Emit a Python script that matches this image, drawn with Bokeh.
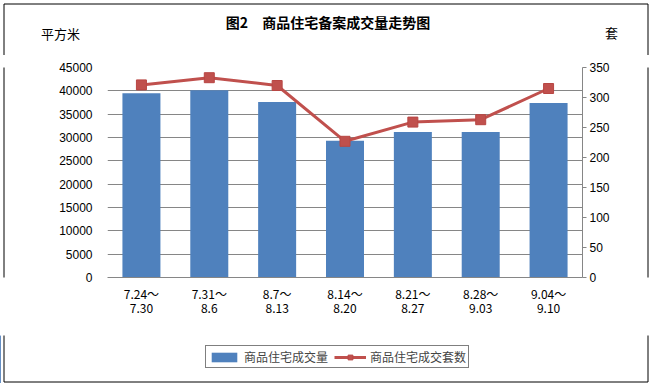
from bokeh.plotting import figure
from bokeh.layouts import column, row
from bokeh.models import (Range1d, LinearAxis, SingleIntervalTicker, Legend,
                          LegendItem, FixedTicker)
from bokeh.core.properties import value
from bokeh.embed import file_html
from bokeh.resources import INLINE

# ---- data ----
categories = ["7.24～\n7.30", "7.31～\n8.6", "8.7～\n8.13", "8.14～\n8.20",
              "8.21～\n8.27", "8.28～\n9.03", "9.04～\n9.10"]
area_sqm = [39500, 40100, 37600, 29300, 31200, 31200, 37400]   # 商品住宅成交量 (平方米)
units = [321, 333, 320, 227, 259, 263, 315]                    # 商品住宅成交套数 (套)
title_text = "图2　商品住宅备案成交量走势图"
left_unit = "平方米"
right_unit = "套"
series_names = ["商品住宅成交量", "商品住宅成交套数"]

idx = list(range(len(categories)))

CJK = "Noto Sans CJK SC"
NUM = "Liberation Sans"
BLUE = "#4F81BD"
RED = "#C0504D"
GRID = "#868686"

W = 651          # total width
TOP_H = 55       # header strip height
MID_H = 280      # main chart height
BOT_H = 48       # legend strip height
LS_W = 8         # left border strip
RS_W = 11        # right border strip
MAIN_W = W - LS_W - RS_W
BX0, BX1 = 3.5, W - 3.5   # outer border x positions (page pixels)
EXT = 10                  # let border lines run past each strip's edge


def blank(width, height):
    f = figure(width=width, height=height, x_range=Range1d(0, width),
               y_range=Range1d(height, 0), output_backend="svg",
               toolbar_location=None, title=None,
               x_axis_location=None, y_axis_location=None,
               min_border=0, min_border_left=0, min_border_right=0,
               min_border_top=0, min_border_bottom=0)
    f.outline_line_color = None
    f.grid.visible = False
    f.background_fill_color = "white"
    f.border_fill_color = "white"
    return f


# ---- header: title, unit labels, top border ----
top = blank(W, TOP_H)
top.segment(x0=[BX0, BX0, BX1], y0=[3.5, 3.5, 3.5], x1=[BX1, BX0, BX1],
            y1=[3.5, TOP_H + EXT, TOP_H + EXT], line_color="black", line_width=1)
top.text(x=[327.5], y=[21], text=[title_text], text_font=value(CJK),
         text_font_size="14px", text_font_style="bold", text_align="center",
         text_baseline="middle", text_color="black")
top.text(x=[60, 611], y=[33, 32], text=[left_unit, right_unit], text_font=value(CJK),
         text_font_size="13px", text_align="center", text_baseline="middle",
         text_color="black")

# ---- side border strips ----
ls = blank(LS_W, MID_H)
ls.segment(x0=[BX0], y0=[-EXT], x1=[BX0], y1=[MID_H + EXT], line_color="black", line_width=1)
rs = blank(RS_W, MID_H)
rx = BX1 - (W - RS_W)
rs.segment(x0=[rx], y0=[-EXT], x1=[rx], y1=[MID_H + EXT], line_color="black", line_width=1)

# ---- main chart ----
p = figure(width=MAIN_W, height=MID_H, x_range=Range1d(-0.5, len(categories) - 0.5),
           y_range=Range1d(0, 45000), output_backend="svg", toolbar_location=None,
           title=None, min_border_left=99, min_border_right=MAIN_W - 99 - 475,
           min_border_top=12, min_border_bottom=MID_H - 12 - 210)
p.outline_line_color = None
p.background_fill_color = "white"
p.border_fill_color = "white"
p.extra_y_ranges = {"count": Range1d(0, 350)}

p.xgrid.visible = False
p.ygrid.grid_line_color = GRID
p.ygrid.grid_line_width = 1

ya = p.yaxis[0]
ya.ticker = SingleIntervalTicker(interval=5000, num_minor_ticks=0)
ya.axis_line_color = None
ya.major_tick_line_color = None
ya.minor_tick_line_color = None
ya.major_label_standoff = 9
ya.major_label_text_font = NUM
ya.major_label_text_font_size = "12px"
ya.major_label_text_color = "black"

xa = p.xaxis[0]
xa.ticker = FixedTicker(ticks=idx)
xa.major_label_overrides = {i: c for i, c in zip(idx, categories)}
xa.axis_line_color = GRID
xa.major_tick_line_color = None
xa.minor_tick_line_color = None
xa.major_label_standoff = 1
xa.major_label_text_font = CJK
xa.major_label_text_font_size = "12px"
xa.major_label_text_color = "black"
xa.major_label_text_line_height = 0.88

ra = LinearAxis(y_range_name="count",
                ticker=SingleIntervalTicker(interval=50, num_minor_ticks=0))
ra.axis_line_color = GRID
ra.major_tick_line_color = GRID
ra.major_tick_out = 4
ra.major_tick_in = 0
ra.minor_tick_line_color = None
ra.major_label_standoff = 3
ra.major_label_text_font = NUM
ra.major_label_text_font_size = "12px"
ra.major_label_text_color = "black"
p.add_layout(ra, "right")

p.vbar(x=idx, top=area_sqm, width=0.56, fill_color=BLUE, line_color=None)
p.line(x=idx, y=units, y_range_name="count", line_color=RED, line_width=3)
p.scatter(x=idx, y=units, y_range_name="count", marker="square", size=10,
          fill_color=RED, line_color="#B84643")

# ---- legend strip ----
bot = blank(W, BOT_H)
BY = BOT_H - 1.5
bot.segment(x0=[BX0, BX0, BX1], y0=[BY, -EXT, -EXT], x1=[BX1, BX0, BX1],
            y1=[BY, BY, BY], line_color="black", line_width=1)
# legend renderers: same series, placed on ranges that keep them out of view
bot.extra_x_ranges = {"off": Range1d(1000, 1001)}
bot.extra_y_ranges = {"off": Range1d(1000, 1001)}
lb = bot.vbar(x=idx, top=area_sqm, width=0.56, fill_color=BLUE, line_color=None,
              x_range_name="off", y_range_name="off")
ll = bot.line(x=idx, y=units, line_color=RED, line_width=3,
              x_range_name="off", y_range_name="off")
lm = bot.scatter(x=idx, y=units, marker="square", size=10, fill_color=RED,
                 line_color="#B84643", x_range_name="off", y_range_name="off")
LEG_H = 21
legend = Legend(items=[LegendItem(label=series_names[0], renderers=[lb]),
                       LegendItem(label=series_names[1], renderers=[ll, lm])],
                location=(205, BOT_H - 12 - LEG_H), orientation="horizontal",
                label_text_font=CJK, label_text_font_size="12px",
                label_height=12, glyph_height=12, glyph_width=32,
                label_standoff=4, spacing=6, padding=2, margin=0,
                border_line_color="black", border_line_width=1,
                background_fill_color="white", background_fill_alpha=1)
bot.add_layout(legend, "center")

layout = column(top, row(ls, p, rs), bot)
open("out.html", "w").write(file_html(layout, INLINE))
